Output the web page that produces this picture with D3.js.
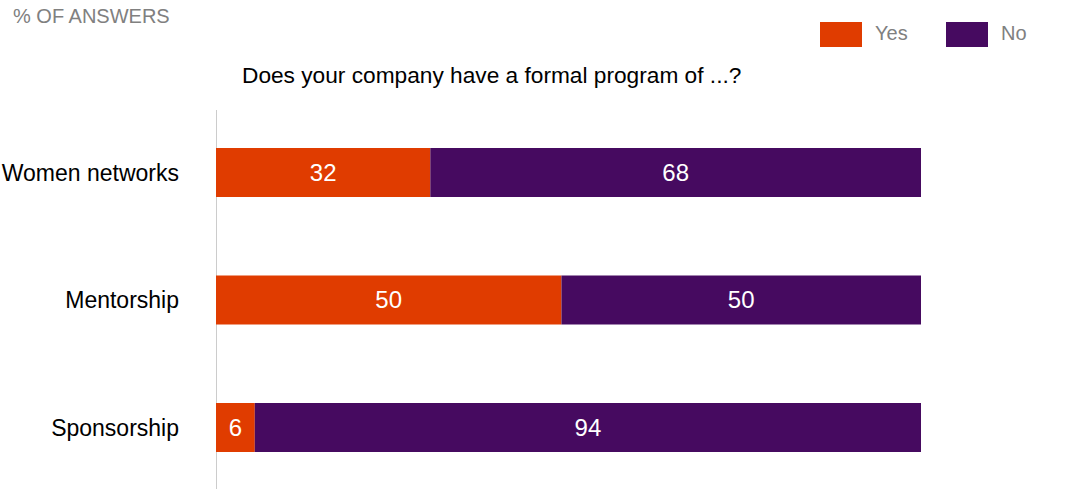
<!DOCTYPE html>
<html><head><meta charset="utf-8">
<script src="https://cdn.jsdelivr.net/npm/d3@7"></script>
<style>body{margin:0;background:#fff;}svg{display:block;font-family:"Liberation Sans",Arial,Helvetica,sans-serif;}</style>
</head><body><svg id="c" width="1067" height="489"></svg>
<script>
const categories = ["Women networks", "Mentorship", "Sponsorship"];
const yesValues = [30.4, 49, 5.5];
const noValues = [69.6, 51, 94.5];
const yesLabels = ["32", "50", "6"];
const noLabels = ["68", "50", "94"];
const seriesNames = ["Yes", "No"];
const colors = ["#E03C00", "#460A60"];

const svg = d3.select("#c");
const x = d3.scaleLinear().domain([0, 100]).range([216, 921]);
const y = d3.scaleBand().domain(categories).range([109.75, 490.25]).paddingInner(0.6157).paddingOuter(0.3);

// axis line
svg.append("line").attr("x1", 216.5).attr("x2", 216.5).attr("y1", 110).attr("y2", 489)
  .attr("stroke", "#cccccc").attr("stroke-width", 1);

const rows = categories.map((c, i) => ({c, yes: yesValues[i], no: noValues[i], yl: yesLabels[i], nl: noLabels[i]}));

const g = svg.append("g");
rows.forEach(r => {
  g.append("rect").attr("x", x(0)).attr("y", y(r.c)).attr("width", x(r.yes) - x(0)).attr("height", y.bandwidth()).attr("fill", colors[0]);
  g.append("rect").attr("x", x(r.yes)).attr("y", y(r.c)).attr("width", x(r.yes + r.no) - x(r.yes)).attr("height", y.bandwidth()).attr("fill", colors[1]);
  g.append("text").attr("x", (x(0) + x(r.yes)) / 2).attr("y", y(r.c) + y.bandwidth() / 2).attr("dy", "0.35em")
    .attr("text-anchor", "middle").attr("fill", "#fff").attr("font-size", 24).text(r.yl);
  g.append("text").attr("x", (x(r.yes) + x(r.yes + r.no)) / 2).attr("y", y(r.c) + y.bandwidth() / 2).attr("dy", "0.35em")
    .attr("text-anchor", "middle").attr("fill", "#fff").attr("font-size", 24).text(r.nl);
  svg.append("text").attr("x", 179).attr("y", y(r.c) + y.bandwidth() / 2).attr("dy", "0.35em")
    .attr("text-anchor", "end").attr("fill", "#000").attr("font-size", 23).text(r.c);
});

svg.append("text").attr("x", 13).attr("y", 23).attr("fill", "#808080").attr("font-size", 20).text("% OF ANSWERS");
svg.append("text").attr("x", 242).attr("y", 83).attr("fill", "#000").attr("font-size", 22.7).text("Does your company have a formal program of ...?");

const legX = [820, 946];
seriesNames.forEach((s, i) => {
  svg.append("rect").attr("x", legX[i]).attr("y", 22).attr("width", 42).attr("height", 25).attr("fill", colors[i]);
  svg.append("text").attr("x", legX[i] + 55).attr("y", 33).attr("dy", "0.35em").attr("fill", "#808080").attr("font-size", 20).text(s);
});
</script></body></html>
